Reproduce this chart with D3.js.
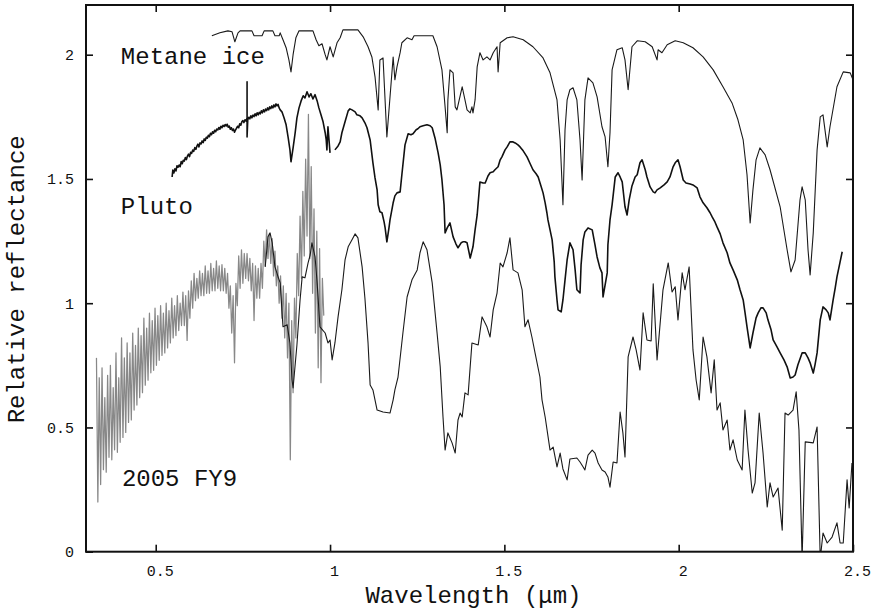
<!DOCTYPE html>
<html>
<head>
<meta charset="utf-8">
<script src="https://cdn.jsdelivr.net/npm/d3@7"></script>
<style>
  body { margin: 0; background: #fff; }
  text { font-family: "Liberation Mono", "DejaVu Sans Mono", monospace; fill: #111; }
</style>
</head>
<body>
<svg id="chart" width="874" height="611"></svg>
<script>
// Laboratory methane ice reflectance (offset upward)
const metaneIce = [
  [0.661,2.076],[0.684,2.088],[0.707,2.096],[0.719,2.092],[0.727,2.052],[0.736,2.088],[0.742,2.096],[0.776,2.096],
  [0.782,2.076],[0.805,2.076],[0.811,2.096],[0.836,2.096],[0.842,2.076],[0.854,2.076],[0.857,2.088],[0.865,2.060],
  [0.874,2.028],[0.882,1.979],[0.888,1.931],[0.894,2.000],[0.902,2.068],[0.911,2.096],[0.951,2.096],[0.960,2.060],
  [0.968,2.036],[0.977,2.044],[0.986,2.000],[0.991,1.979],[1.000,2.032],[1.009,1.991],[1.020,2.048],[1.029,2.068],
  [1.037,2.100],[1.080,2.100],[1.095,2.072],[1.109,2.032],[1.120,1.991],[1.129,1.911],[1.138,1.778],[1.143,1.979],
  [1.152,1.987],[1.163,1.669],[1.172,1.830],[1.181,1.991],[1.186,1.899],[1.192,1.951],[1.201,2.008],[1.206,2.048],
  [1.221,2.068],[1.235,2.060],[1.241,2.076],[1.295,2.076],[1.307,2.032],[1.321,1.939],[1.330,1.790],[1.336,1.686],
  [1.338,1.818],[1.344,1.939],[1.353,1.927],[1.359,1.790],[1.364,1.778],[1.379,1.871],[1.387,1.818],[1.393,1.778],
  [1.402,1.766],[1.407,1.790],[1.410,1.766],[1.416,1.818],[1.422,1.951],[1.430,2.008],[1.439,1.979],[1.450,1.991],
  [1.459,1.979],[1.468,2.008],[1.479,2.032],[1.482,1.931],[1.488,2.048],[1.508,2.068],[1.525,2.072],[1.554,2.060],
  [1.582,2.032],[1.611,1.987],[1.631,1.927],[1.651,1.818],[1.660,1.657],[1.665,1.496],[1.668,1.396],[1.674,1.698],
  [1.680,1.818],[1.688,1.859],[1.697,1.867],[1.708,1.818],[1.717,1.657],[1.723,1.496],[1.731,1.818],[1.740,1.907],
  [1.754,1.887],[1.766,1.830],[1.780,1.710],[1.789,1.669],[1.797,1.549],[1.803,1.686],[1.809,1.939],[1.823,2.020],
  [1.838,2.028],[1.846,1.979],[1.855,1.859],[1.866,2.032],[1.881,2.056],[1.904,2.052],[1.924,2.032],[1.938,1.979],
  [1.941,2.020],[1.952,2.008],[1.967,2.040],[1.990,2.056],[2.013,2.048],[2.041,2.028],[2.070,1.991],[2.099,1.939],
  [2.127,1.871],[2.153,1.806],[2.170,1.738],[2.185,1.657],[2.196,1.517],[2.205,1.323],[2.213,1.456],[2.222,1.577],
  [2.233,1.625],[2.248,1.597],[2.262,1.537],[2.291,1.388],[2.311,1.215],[2.322,1.126],[2.334,1.174],[2.348,1.416],
  [2.354,1.468],[2.363,1.416],[2.371,1.215],[2.377,1.114],[2.386,1.283],[2.397,1.617],[2.406,1.750],[2.414,1.758],
  [2.426,1.629],[2.434,1.710],[2.454,1.871],[2.472,1.931],[2.492,1.927],[2.500,1.899]
];

// Pluto spectrum (offset upward); null marks the gap between the visible and infrared parts
const pluto = [
  [0.547,1.508],[0.549,1.536],[0.552,1.524],[0.555,1.541],[0.558,1.532],[0.561,1.553],[0.564,1.547],[0.567,1.556],
  [0.570,1.549],[0.573,1.570],[0.576,1.561],[0.579,1.575],[0.582,1.572],[0.585,1.586],[0.588,1.578],[0.591,1.592],
  [0.594,1.600],[0.597,1.590],[0.600,1.607],[0.603,1.603],[0.606,1.616],[0.609,1.611],[0.612,1.626],[0.615,1.619],
  [0.618,1.632],[0.621,1.640],[0.624,1.629],[0.627,1.645],[0.630,1.641],[0.633,1.653],[0.636,1.646],[0.639,1.661],
  [0.642,1.655],[0.645,1.668],[0.648,1.664],[0.651,1.676],[0.654,1.670],[0.657,1.684],[0.660,1.678],[0.663,1.690],
  [0.666,1.684],[0.669,1.696],[0.672,1.690],[0.675,1.701],[0.678,1.697],[0.681,1.707],[0.684,1.700],[0.687,1.712],
  [0.690,1.706],[0.693,1.716],[0.696,1.711],[0.699,1.719],[0.702,1.713],[0.705,1.720],[0.708,1.708],[0.711,1.713],
  [0.714,1.700],[0.717,1.706],[0.720,1.695],[0.723,1.701],[0.726,1.688],[0.729,1.697],[0.732,1.705],[0.735,1.712],
  [0.738,1.706],[0.741,1.722],[0.744,1.716],[0.747,1.730],[0.750,1.735],[0.753,1.727],[0.756,1.738],[0.759,1.733],
  [0.762,1.745],[0.762,1.891],[0.762,1.669],[0.764,1.738],[0.767,1.748],[0.770,1.742],[0.773,1.754],[0.776,1.746],
  [0.779,1.757],[0.782,1.751],[0.785,1.762],[0.788,1.754],[0.791,1.766],[0.794,1.758],[0.797,1.768],[0.800,1.762],
  [0.803,1.774],[0.806,1.766],[0.809,1.778],[0.812,1.770],[0.815,1.781],[0.818,1.775],[0.821,1.786],[0.824,1.778],
  [0.827,1.790],[0.830,1.783],[0.833,1.794],[0.836,1.786],[0.839,1.798],[0.842,1.790],[0.845,1.802],[0.848,1.794],
  [0.851,1.800],[0.854,1.786],[0.857,1.778],[0.862,1.770],[0.868,1.746],[0.874,1.718],[0.880,1.665],[0.885,1.617],
  [0.888,1.569],[0.894,1.625],[0.900,1.686],[0.905,1.746],[0.911,1.786],[0.917,1.814],[0.923,1.835],[0.928,1.826],
  [0.934,1.851],[0.940,1.830],[0.945,1.843],[0.951,1.822],[0.957,1.839],[0.963,1.814],[0.968,1.786],[0.974,1.758],
  [0.980,1.730],[0.986,1.686],[0.989,1.657],[0.991,1.617],[0.994,1.710],[1.000,1.605],
  null,
  [1.014,1.617],[1.023,1.633],[1.029,1.649],[1.034,1.686],[1.043,1.730],[1.052,1.774],[1.057,1.782],[1.063,1.778],
  [1.072,1.770],[1.077,1.758],[1.086,1.754],[1.092,1.746],[1.100,1.726],[1.106,1.706],[1.115,1.657],[1.123,1.565],
  [1.129,1.504],[1.135,1.456],[1.138,1.396],[1.143,1.368],[1.149,1.364],[1.155,1.327],[1.158,1.303],[1.163,1.247],
  [1.169,1.303],[1.172,1.335],[1.181,1.404],[1.186,1.432],[1.192,1.444],[1.201,1.448],[1.206,1.517],[1.215,1.637],
  [1.224,1.682],[1.232,1.678],[1.238,1.682],[1.247,1.698],[1.252,1.702],[1.258,1.710],[1.267,1.714],[1.278,1.718],
  [1.287,1.714],[1.293,1.706],[1.301,1.665],[1.310,1.605],[1.316,1.557],[1.321,1.496],[1.327,1.396],[1.330,1.283],
  [1.336,1.303],[1.344,1.323],[1.353,1.267],[1.361,1.239],[1.367,1.223],[1.376,1.243],[1.381,1.247],[1.387,1.247],
  [1.393,1.243],[1.402,1.182],[1.410,1.227],[1.416,1.295],[1.422,1.355],[1.430,1.488],[1.439,1.484],[1.445,1.484],
  [1.453,1.512],[1.459,1.525],[1.468,1.529],[1.473,1.537],[1.482,1.549],[1.488,1.577],[1.493,1.589],[1.502,1.617],
  [1.508,1.629],[1.516,1.649],[1.525,1.649],[1.531,1.645],[1.539,1.637],[1.545,1.629],[1.554,1.613],[1.565,1.589],
  [1.574,1.561],[1.582,1.537],[1.591,1.521],[1.597,1.508],[1.605,1.472],[1.611,1.444],[1.617,1.404],[1.622,1.364],
  [1.625,1.335],[1.631,1.295],[1.637,1.255],[1.643,1.166],[1.645,1.106],[1.651,1.013],[1.654,0.973],[1.663,0.965],
  [1.668,1.013],[1.674,1.094],[1.680,1.174],[1.688,1.243],[1.697,1.215],[1.703,1.134],[1.708,1.054],[1.717,1.041],
  [1.720,1.154],[1.726,1.255],[1.731,1.287],[1.740,1.303],[1.752,1.295],[1.760,1.235],[1.766,1.186],[1.774,1.142],
  [1.780,1.122],[1.783,1.025],[1.789,1.074],[1.795,1.122],[1.797,1.235],[1.803,1.335],[1.809,1.396],[1.818,1.508],
  [1.826,1.525],[1.832,1.508],[1.838,1.488],[1.846,1.388],[1.852,1.355],[1.858,1.416],[1.866,1.472],[1.875,1.508],
  [1.881,1.517],[1.889,1.565],[1.895,1.577],[1.904,1.537],[1.909,1.508],[1.918,1.468],[1.927,1.448],[1.932,1.444],
  [1.938,1.456],[1.947,1.464],[1.958,1.476],[1.967,1.488],[1.975,1.508],[1.984,1.549],[1.990,1.565],[1.998,1.577],
  [2.004,1.549],[2.013,1.496],[2.021,1.484],[2.033,1.480],[2.041,1.476],[2.053,1.464],[2.061,1.428],[2.070,1.404],
  [2.081,1.384],[2.090,1.364],[2.096,1.347],[2.104,1.327],[2.110,1.307],[2.119,1.279],[2.127,1.243],[2.139,1.203],
  [2.147,1.162],[2.156,1.134],[2.168,1.094],[2.176,1.054],[2.185,1.013],[2.190,0.965],[2.196,0.905],[2.205,0.820],
  [2.213,0.880],[2.222,0.941],[2.228,0.961],[2.236,0.981],[2.242,0.981],[2.251,0.961],[2.256,0.933],[2.265,0.893],
  [2.271,0.852],[2.282,0.824],[2.291,0.800],[2.302,0.772],[2.311,0.744],[2.320,0.699],[2.328,0.703],[2.334,0.711],
  [2.342,0.752],[2.354,0.800],[2.363,0.800],[2.371,0.780],[2.377,0.760],[2.386,0.719],[2.391,0.752],[2.397,0.800],
  [2.406,0.933],[2.414,0.985],[2.423,0.973],[2.429,0.961],[2.434,0.933],[2.443,1.013],[2.449,1.062],[2.454,1.106],
  [2.463,1.166],[2.469,1.207]
];

// 2005 FY9, visible spectrum (noisy, grey)
const fy9Visible = [
  [0.330,0.78],[0.334,0.20],[0.338,0.70],[0.342,0.27],[0.346,0.74],[0.350,0.33],[0.354,0.62],[0.358,0.32],
  [0.362,0.71],[0.366,0.38],[0.370,0.75],[0.374,0.37],[0.378,0.66],[0.382,0.41],[0.386,0.80],[0.390,0.40],
  [0.394,0.70],[0.398,0.44],[0.402,0.86],[0.406,0.46],[0.410,0.78],[0.414,0.48],[0.418,0.84],[0.422,0.52],
  [0.426,0.80],[0.430,0.53],[0.434,0.88],[0.438,0.57],[0.442,0.83],[0.446,0.59],[0.450,0.90],[0.454,0.62],
  [0.458,0.87],[0.462,0.64],[0.466,0.94],[0.470,0.67],[0.474,0.90],[0.478,0.69],[0.482,0.96],[0.486,0.72],
  [0.490,0.93],[0.494,0.73],[0.498,0.98],[0.502,0.75],[0.506,0.95],[0.510,0.77],[0.514,0.99],[0.518,0.79],
  [0.522,0.96],[0.526,0.80],[0.530,1.00],[0.534,0.82],[0.538,0.97],[0.542,0.84],[0.546,1.02],[0.550,0.86],
  [0.554,0.99],[0.558,0.87],[0.562,1.03],[0.566,0.89],[0.570,1.00],[0.574,0.91],[0.578,1.045],[0.582,0.91],
  [0.586,1.03],[0.590,0.85],[0.594,1.05],[0.598,0.94],[0.602,1.09],[0.606,0.98],[0.610,1.12],[0.614,1.01],
  [0.618,1.10],[0.622,1.02],[0.626,1.13],[0.630,1.03],[0.634,1.12],[0.638,1.03],[0.642,1.15],[0.646,1.04],
  [0.650,1.13],[0.654,1.04],[0.658,1.16],[0.662,1.05],[0.666,1.14],[0.670,1.05],[0.674,1.17],[0.678,1.06],
  [0.682,1.15],[0.686,1.05],[0.690,1.155],[0.694,1.05],[0.698,1.14],[0.702,1.04],[0.706,1.12],[0.710,0.98],
  [0.714,1.07],[0.718,0.88],[0.722,1.03],[0.726,0.76],[0.730,1.08],[0.734,0.99],[0.738,1.19],[0.742,1.06],
  [0.746,1.215],[0.750,1.08],[0.754,1.20],[0.758,1.10],[0.762,1.20],[0.766,1.09],[0.770,1.18],[0.774,1.05],
  [0.778,1.16],[0.782,0.93],[0.786,1.15],[0.790,1.02],[0.794,1.14],[0.798,1.02],[0.802,1.16],[0.806,1.06],
  [0.810,1.25],[0.814,1.15],[0.818,1.295],[0.822,1.18],[0.826,1.28],[0.830,1.16],[0.834,1.26],[0.838,1.11],
  [0.842,1.21],[0.846,1.07],[0.850,1.15],[0.854,1.00],[0.858,1.11],[0.862,0.94],[0.866,1.07],[0.870,0.86],
  [0.874,1.04],[0.878,0.78],[0.882,1.00],[0.886,0.37],[0.890,0.93],[0.894,0.64],[0.898,1.02],[0.902,0.86],
  [0.906,1.20],[0.910,1.03],[0.914,1.35],[0.918,1.10],[0.922,1.45],[0.926,1.19],[0.930,1.58],[0.934,1.27],
  [0.938,1.76],[0.942,1.18],[0.946,1.55],[0.950,1.04],[0.954,1.38],[0.958,0.88],[0.962,1.29],[0.966,0.74],
  [0.970,1.22],[0.974,0.68],[0.978,1.10],[0.982,0.95]
];

// 2005 FY9, near-infrared spectrum (black)
const fy9Infrared = [
  [0.814,1.146],[0.822,1.267],[0.828,1.283],[0.834,1.243],[0.842,1.146],[0.851,1.106],[0.857,1.082],[0.865,0.905],
  [0.877,0.913],[0.885,0.840],[0.891,0.691],[0.894,0.659],[0.905,0.832],[0.914,1.013],[0.920,1.106],[0.928,1.102],
  [0.937,1.162],[0.943,1.194],[0.948,1.243],[0.957,1.186],[0.963,1.082],[0.971,0.905],[0.986,0.880],[0.994,0.840],
  [1.000,0.852],[1.006,0.772],[1.014,0.840],[1.023,0.945],[1.034,1.054],[1.043,1.174],[1.052,1.227],[1.063,1.255],
  [1.072,1.279],[1.080,1.263],[1.092,1.146],[1.100,1.021],[1.109,0.840],[1.115,0.671],[1.123,0.651],[1.135,0.570],
  [1.152,0.562],[1.172,0.558],[1.181,0.611],[1.186,0.651],[1.195,0.703],[1.209,0.880],[1.221,1.025],[1.235,1.094],
  [1.250,1.134],[1.258,1.203],[1.267,1.247],[1.278,1.215],[1.293,1.082],[1.307,0.880],[1.316,0.744],[1.324,0.542],
  [1.330,0.409],[1.338,0.478],[1.350,0.438],[1.359,0.397],[1.367,0.530],[1.373,0.558],[1.379,0.542],[1.387,0.639],
  [1.396,0.631],[1.407,0.840],[1.425,0.832],[1.436,0.945],[1.450,0.905],[1.459,0.864],[1.468,0.973],[1.479,1.041],
  [1.488,1.162],[1.496,1.146],[1.508,1.203],[1.516,1.263],[1.525,1.134],[1.539,1.122],[1.551,1.054],[1.559,0.905],
  [1.568,0.933],[1.579,0.864],[1.588,0.800],[1.602,0.703],[1.608,0.611],[1.617,0.542],[1.631,0.409],[1.640,0.421],
  [1.651,0.341],[1.660,0.397],[1.668,0.333],[1.680,0.289],[1.688,0.373],[1.708,0.377],[1.717,0.361],[1.726,0.341],
  [1.731,0.329],[1.740,0.389],[1.752,0.409],[1.760,0.397],[1.769,0.357],[1.780,0.329],[1.789,0.321],[1.797,0.301],
  [1.803,0.260],[1.812,0.361],[1.823,0.357],[1.832,0.562],[1.840,0.478],[1.846,0.381],[1.855,0.784],[1.869,0.864],
  [1.878,0.812],[1.889,0.731],[1.898,0.961],[1.909,0.852],[1.921,0.848],[1.927,1.078],[1.938,0.772],[1.955,1.054],
  [1.970,1.162],[1.981,1.045],[1.990,1.066],[1.998,0.933],[2.010,1.122],[2.018,1.054],[2.030,1.146],[2.041,0.812],
  [2.050,0.691],[2.059,0.611],[2.070,0.864],[2.081,0.784],[2.093,0.639],[2.102,0.772],[2.110,0.570],[2.119,0.599],
  [2.127,0.490],[2.139,0.530],[2.147,0.409],[2.156,0.450],[2.168,0.369],[2.182,0.329],[2.190,0.570],[2.199,0.409],
  [2.211,0.236],[2.219,0.277],[2.231,0.558],[2.242,0.397],[2.254,0.180],[2.262,0.277],[2.271,0.220],[2.285,0.256],
  [2.297,0.087],[2.305,0.558],[2.314,0.550],[2.328,0.570],[2.337,0.643],[2.345,0.490],[2.354,-0.030],[2.363,0.442],
  [2.386,0.438],[2.397,0.502],[2.406,-0.030],[2.414,0.075],[2.426,0.035],[2.440,0.059],[2.454,0.116],[2.463,0.035],
  [2.472,0.035],[2.483,0.289],[2.489,0.176],[2.497,0.357]
];

const xTicks = [0.5, 1, 1.5, 2, 2.5];
const yTicks = [0, 0.5, 1, 1.5, 2];
const seriesNames = ["Metane ice", "Pluto", "2005 FY9"];
const xTitle = "Wavelength (μm)";
const yTitle = "Relative reflectance";

const width = 874, height = 611;
const margin = { top: 5, right: 21, bottom: 59.3, left: 86 };
const svg = d3.select("#chart");

const x = d3.scaleLinear().domain([0.3, 2.5]).range([margin.left, width - margin.right]);
const y = d3.scaleLinear().domain([0, 2.2]).range([height - margin.bottom, margin.top]);

svg.append("defs").append("clipPath").attr("id", "plot-area")
  .append("rect")
  .attr("x", x(0.3)).attr("y", y(2.2))
  .attr("width", x(2.5) - x(0.3)).attr("height", y(0) - y(2.2));

const line = d3.line()
  .defined(d => d !== null)
  .x(d => x(d[0]))
  .y(d => y(d[1]));

const plot = svg.append("g").attr("clip-path", "url(#plot-area)");

plot.append("path").datum(fy9Visible)
  .attr("d", line).attr("fill", "none")
  .attr("stroke", "#888").attr("stroke-width", 1.25).attr("stroke-linejoin", "round");

plot.append("path").datum(fy9Infrared)
  .attr("d", line).attr("fill", "none")
  .attr("stroke", "#1a1a1a").attr("stroke-width", 1.1).attr("stroke-linejoin", "round");

plot.append("path").datum(pluto)
  .attr("d", line).attr("fill", "none")
  .attr("stroke", "#111").attr("stroke-width", 1.6).attr("stroke-linejoin", "round");

plot.append("path").datum(metaneIce)
  .attr("d", line).attr("fill", "none")
  .attr("stroke", "#1a1a1a").attr("stroke-width", 1.1).attr("stroke-linejoin", "round");

// Axes: inward ticks on all four sides, labels on bottom and left only
const tick = 7;
const fontTick = "15px";

const gx = svg.append("g").attr("transform", `translate(0,${y(0)})`)
  .call(d3.axisBottom(x).tickValues(xTicks).tickSize(-tick).tickPadding(13.5)
    .tickFormat(d => String(d)));
gx.select(".domain").remove();
gx.selectAll("text").attr("dx", 4).style("font-size", fontTick)
  .style("font-family", '"Liberation Mono", monospace');

const gy = svg.append("g").attr("transform", `translate(${x(0.3)},0)`)
  .call(d3.axisLeft(y).tickValues(yTicks).tickSize(-tick).tickPadding(12)
    .tickFormat(d => String(d)));
gy.select(".domain").remove();
gy.selectAll("text").style("font-size", fontTick)
  .style("font-family", '"Liberation Mono", monospace');

const gt = svg.append("g").attr("transform", `translate(0,${y(2.2)})`)
  .call(d3.axisTop(x).tickValues(xTicks.slice(0, 4)).tickSize(-tick).tickFormat(""));
gt.select(".domain").remove();

const gr = svg.append("g").attr("transform", `translate(${x(2.5)},0)`)
  .call(d3.axisRight(y).tickValues(yTicks.slice(1)).tickSize(-tick).tickFormat(""));
gr.select(".domain").remove();

svg.selectAll(".tick line").attr("stroke", "#111").attr("stroke-width", 1.6);

svg.append("rect")
  .attr("x", x(0.3)).attr("y", y(2.2))
  .attr("width", x(2.5) - x(0.3)).attr("height", y(0) - y(2.2))
  .attr("fill", "none").attr("stroke", "#111").attr("stroke-width", 2);

// Series names written inside the plot
const nameAnchors = [[0.400, 1.963], [0.400, 1.359], [0.403, 0.264]];
svg.append("g").selectAll("text").data(seriesNames).join("text")
  .attr("x", (d, i) => x(nameAnchors[i][0]))
  .attr("y", (d, i) => y(nameAnchors[i][1]))
  .style("font-size", "24px")
  .text(d => d);

// Axis titles
svg.append("text")
  .attr("x", (x(0.3) + x(2.5)) / 2 + 4).attr("y", 603)
  .attr("text-anchor", "middle").style("font-size", "24px")
  .text(xTitle);

svg.append("text")
  .attr("transform", `translate(24,${(y(0) + y(2.2)) / 2 + 1}) rotate(-90)`)
  .attr("text-anchor", "middle").style("font-size", "24px")
  .text(yTitle);
</script>
</body>
</html>
